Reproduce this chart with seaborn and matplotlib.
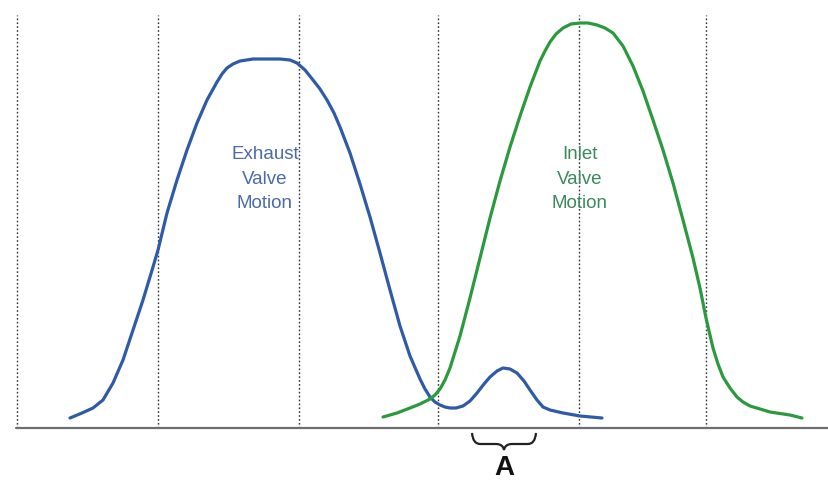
import numpy as np
import pandas as pd
import matplotlib
matplotlib.use("Agg")
import matplotlib.pyplot as plt
from matplotlib.path import Path
from matplotlib.patches import PathPatch
import seaborn as sns

# Crank position (horizontal units) and valve lift for each valve
exhaust_pos = [70, 82, 93, 103, 113, 123, 133, 143, 153, 158, 167, 177, 187, 197, 207,
               217, 222, 227, 233, 240, 253, 266, 280, 290, 297, 305, 313, 320, 327, 334,
               340, 350, 360, 370, 380, 390, 400, 410, 420, 425, 430, 435, 440, 445, 450,
               456, 463, 470, 477, 484, 490, 497, 503, 510, 517, 524, 530, 537, 543, 550,
               563, 580, 602]
exhaust_lift = [10, 15, 20, 28, 45, 68, 98, 128, 161, 178, 215, 248, 278, 305, 328,
                346, 354, 360, 364, 367, 369, 369, 369, 368, 365, 358, 348, 339, 328, 315,
                301, 275, 244, 211, 175, 138, 102, 72, 49, 39, 31, 26, 23, 21, 20,
                20, 22, 27, 35, 44, 51, 57, 60, 59, 55, 47, 38, 28, 21, 18,
                15, 12, 10]

inlet_pos = [383, 397, 410, 420, 430, 435, 440, 445, 450, 460, 470, 480, 490, 500, 510,
             520, 530, 540, 545, 550, 556, 563, 571, 580, 588, 597, 605, 613, 623, 633,
             643, 653, 663, 673, 683, 693, 700, 706, 713, 718, 723, 730, 737, 743, 750,
             760, 770, 790, 802]
inlet_lift = [11, 15, 20, 24, 29, 33, 39, 48, 60, 92, 130, 170, 210, 247, 281,
              312, 341, 367, 377, 386, 394, 400, 404, 405, 405, 403, 400, 395, 382, 362,
              337, 308, 278, 245, 208, 170, 140, 110, 80, 64, 51, 40, 31, 26, 22,
              19, 16, 13, 10]

# Reference crank positions (dotted guide lines)
guide_pos = [17, 158, 299, 438, 579, 706]
guide_top = 413

# Span marked "A" under the secondary exhaust bump
span_a = [472, 536]

labels = ["Exhaust\nValve\nMotion", "Inlet\nValve\nMotion"]
label_pos = [(265, 249), (580, 249)]

df = pd.concat([
    pd.DataFrame({"pos": exhaust_pos, "lift": exhaust_lift, "valve": "Exhaust"}),
    pd.DataFrame({"pos": inlet_pos, "lift": inlet_lift, "valve": "Inlet"}),
])

sns.set_theme(style="white")
plt.rcParams["font.family"] = ["Liberation Sans", "DejaVu Sans"]

fig = plt.figure(figsize=(8.29, 4.83), dpi=100)
ax = fig.add_axes([0, 0, 1, 1])
ax.set_xlim(0, 829)
ax.set_ylim(-55, 428)
ax.axis("off")

for x in guide_pos:
    ax.plot([x, x], [0, guide_top], color="#333333", lw=1.0,
            linestyle=(0, (1.2, 1.6)), zorder=1)

ax.plot([16, 829], [0, 0], color="#6f6f6f", lw=1.6, zorder=2)

palette = {"Exhaust": "#2f5ba6", "Inlet": "#2b9a3e"}
sns.lineplot(data=df, x="pos", y="lift", hue="valve", palette=palette,
             lw=2.3, legend=False, ax=ax, zorder=3, estimator=None)
for line in ax.get_lines()[-2:]:
    line.set_solid_joinstyle("round")
    line.set_solid_capstyle("round")

ax.text(*label_pos[0], labels[0], color="#4a6aaa", fontsize=13.5,
        ha="center", va="center", linespacing=1.55)
ax.text(*label_pos[1], labels[1], color="#3a8a5c", fontsize=13.5,
        ha="center", va="center", linespacing=1.55)

# Curly brace under span A
x0, x1 = span_a
xm = (x0 + x1) / 2
top, mid, tip = -5, -16, -22
verts = [
    (x0, top), (x0 + 1, mid), (x0 + 8, mid),
    (xm - 8, mid),
    (xm - 1, mid), (xm, tip),
    (xm + 1, mid), (xm + 8, mid),
    (x1 - 8, mid),
    (x1 - 1, mid), (x1, top),
]
codes = [Path.MOVETO, Path.CURVE3, Path.CURVE3,
         Path.LINETO,
         Path.CURVE3, Path.CURVE3,
         Path.CURVE3, Path.CURVE3,
         Path.LINETO,
         Path.CURVE3, Path.CURVE3]
ax.add_patch(PathPatch(Path(verts, codes), facecolor="none",
                       edgecolor="#222222", lw=1.6, zorder=3))

ax.text(xm, -40, "A", fontsize=20, fontweight="bold", color="#111111",
        ha="center", va="center")

fig.savefig("out.png", dpi=100)
